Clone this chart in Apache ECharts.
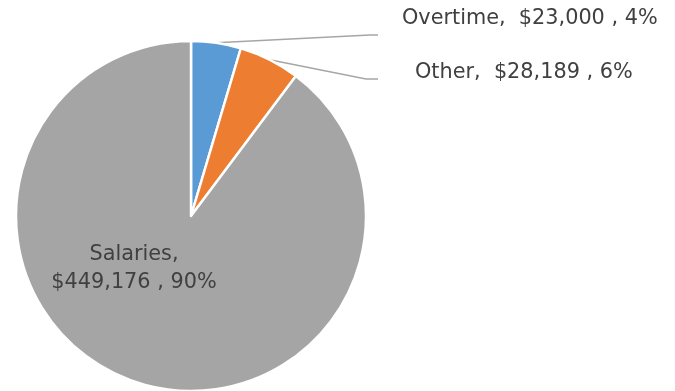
<!DOCTYPE html>
<html>
<head>
<meta charset="utf-8">
<script src="https://cdn.jsdelivr.net/npm/echarts@6/dist/echarts.min.js"></script>
<style>
html,body{margin:0;padding:0;background:#fff;}
#c{width:675px;height:391px;}
</style>
</head>
<body>
<div id="c"></div>
<script>
const categories = ['Overtime', 'Other', 'Salaries'];
const values = [23000, 28189, 449176];
const percentLabels = ['4%', '6%', '90%'];
const colors = ['#5B9BD5', '#ED7D31', '#A5A5A5'];

function money(v) { return '$' + v.toLocaleString('en-US'); }

const labelPos = [
  { x: 402, y: 18.5, align: 'left', line: [[370, 35], [378, 35]] },
  { x: 415, y: 72.5, align: 'left', line: [[366, 79], [378, 79]] },
  { x: 134, y: 269, align: 'center', line: null }
];

const data = categories.map((name, i) => {
  const item = { name: name, value: values[i], itemStyle: { color: colors[i] } };
  if (i === 2) {
    item.label = { position: 'inside', formatter: name + ',\n' + money(values[i]) + ' , ' + percentLabels[i], lineHeight: 28 };
    item.labelLine = { show: false };
  } else {
    item.label = { formatter: name + ',  ' + money(values[i]) + ' , ' + percentLabels[i] };
  }
  return item;
});

const chart = echarts.init(document.getElementById('c'), null, { renderer: 'canvas' });
chart.setOption({
  animation: false,
  series: [{
    type: 'pie',
    center: [191, 216],
    radius: [0, 175],
    startAngle: 90,
    clockwise: true,
    data: data,
    itemStyle: { borderColor: '#fff', borderWidth: 2.5 },
    label: {
      show: true,
      position: 'outside',
      fontFamily: 'DejaVu Sans, sans-serif',
      fontSize: 20.8,
      color: '#404040'
    },
    labelLine: {
      show: true,
      length: 10,
      length2: 10,
      lineStyle: { color: '#A6A6A6', width: 1.5 }
    },
    labelLayout: function (params) {
      const p = labelPos[params.dataIndex];
      const out = { x: p.x, y: p.y, align: p.align, verticalAlign: 'middle' };
      if (p.line && params.labelLinePoints) {
        out.labelLinePoints = [params.labelLinePoints[0], p.line[0], p.line[1]];
      }
      return out;
    }
  }]
});
</script>
</body>
</html>
